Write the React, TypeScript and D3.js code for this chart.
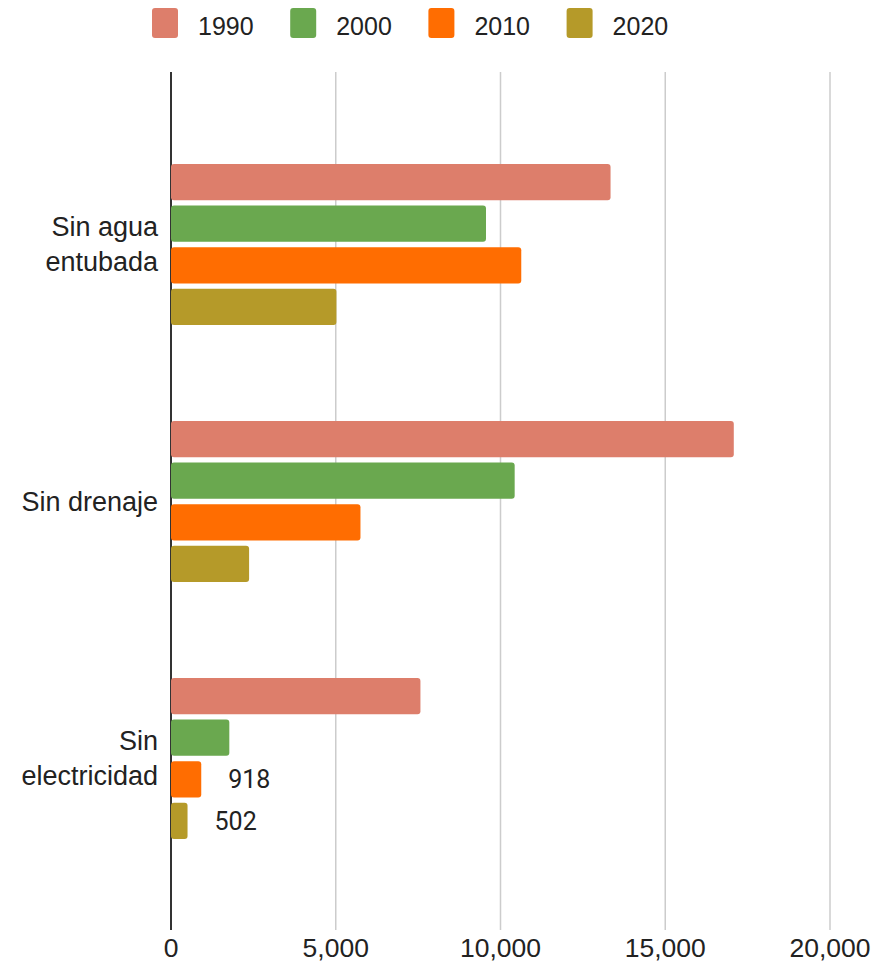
import React from "react";
import * as d3 from "d3";

const categories = ["Sin agua entubada", "Sin drenaje", "Sin electricidad"];
const categoryLines = [["Sin agua", "entubada"], ["Sin drenaje"], ["Sin", "electricidad"]];
const series = ["1990", "2000", "2010", "2020"];
const colors = ["#dd7e6b", "#6aa84f", "#ff6d01", "#b59a29"];
const v1990 = [13340, 17080, 7570];
const v2000 = [9560, 10430, 1770];
const v2010 = [10630, 5750, 918];
const v2020 = [5020, 2370, 502];
const labelled = [[false, false, false, false], [false, false, false, false], [false, false, true, true]];
const ticks = [0, 5000, 10000, 15000, 20000];

const values = [v1990, v2000, v2010, v2020];

export default function App() {
  const W = 889, H = 976;
  const x = d3.scaleLinear().domain([0, 20000]).range([171, 830]);
  const y = d3.scaleBand().domain(categories).range([116, 887]).padding(0);
  const inner = d3.scaleBand().domain(series).range([-80.5, 80.5]).paddingInner(0.13).paddingOuter(0);
  const fmt = d3.format(",");
  const font = "Liberation Sans, Arial, sans-serif";
  return (
    <svg width={W} height={H} style={{ position: "absolute", left: 0, top: 0, background: "#fff" }}>
      <rect width={W} height={H} fill="#fff" />
      {/* legend */}
      {series.map((s, i) => (
        <g key={s} transform={`translate(${152 + i * 138.2},8)`}>
          <rect width={26} height={30} rx={3} fill={colors[i]} />
          <text x={46} y={27} fontSize={25} fontFamily={font} fill="#222">{s}</text>
        </g>
      ))}
      {/* gridlines */}
      {ticks.map(t => (
        <line key={t} x1={x(t)} x2={x(t)} y1={72} y2={930} stroke={t === 0 ? "#333" : "#ccc"} strokeWidth={t === 0 ? 2 : 1.5} />
      ))}
      {/* bars */}
      {categories.map((c, ci) => {
        const cy = (y(c) as number) + y.bandwidth() / 2;
        return (
          <g key={c}>
            {series.map((s, si) => {
              const v = values[si][ci];
              const top = cy + (inner(s) as number);
              return (
                <g key={s}>
                  <rect x={x(0)} y={top} width={x(v) - x(0)} height={inner.bandwidth()} rx={3} fill={colors[si]} />
                  {labelled[ci][si] && (
                    <text x={x(v) + 27} y={top + inner.bandwidth() / 2 + 9} fontSize={25} fontFamily="Roboto, sans-serif" fill="#222">{fmt(v)}</text>
                  )}
                </g>
              );
            })}
            {categoryLines[ci].map((ln, li) => {
              const n = categoryLines[ci].length;
              return (
                <text key={li} x={158} y={cy + (li - (n - 1) / 2) * 35 + 9} textAnchor="end" fontSize={27} fontFamily={font} fill="#222">{ln}</text>
              );
            })}
          </g>
        );
      })}
      {/* x tick labels */}
      {ticks.map(t => (
        <text key={t} x={x(t)} y={957} textAnchor="middle" fontSize={26.5} fontFamily={font} fill="#222">{fmt(t)}</text>
      ))}
    </svg>
  );
}
